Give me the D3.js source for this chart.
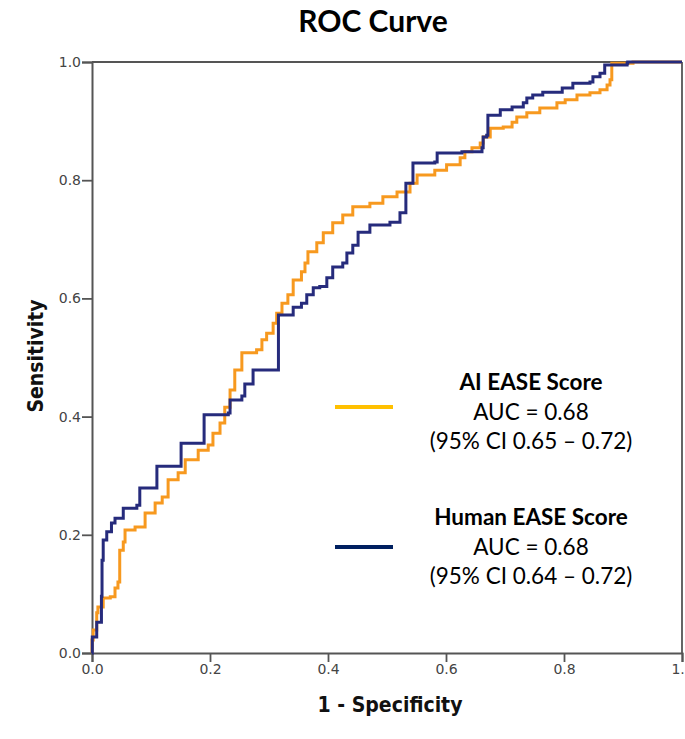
<!DOCTYPE html>
<html><head><meta charset="utf-8">
<script src="https://cdn.jsdelivr.net/npm/d3@7"></script>
<style>body{margin:0;background:#fff}</style>
</head><body>
<svg id="c" width="685" height="739"></svg>
<script>
// ----- data -----
const chartTitle = "ROC Curve";
const xTitle = "1 - Specificity";
const yTitle = "Sensitivity";
const tickValues = [0, 0.2, 0.4, 0.6, 0.8, 1.0];
const seriesNames = ["AI EASE Score", "Human EASE Score"];
const aucLabels = ["AUC = 0.68", "AUC = 0.68"];
const ciLabels = ["(95% CI 0.65 \u2013 0.72)", "(95% CI 0.64 \u2013 0.72)"];

// [1 - specificity, sensitivity]
const aiCurve = [
 [0,0],[0,0.022],[0.002,0.039],[0.008,0.068],[0.010,0.078],[0.019,0.093],[0.031,0.095],
 [0.039,0.110],[0.044,0.120],[0.047,0.174],[0.053,0.188],[0.056,0.208],[0.073,0.213],
 [0.090,0.237],[0.107,0.254],[0.119,0.264],[0.129,0.293],[0.146,0.305],[0.158,0.327],
 [0.180,0.343],[0.197,0.352],[0.205,0.372],[0.217,0.389],[0.225,0.416],[0.234,0.445],
 [0.242,0.479],[0.254,0.508],[0.279,0.513],[0.288,0.530],[0.296,0.541],[0.307,0.558],
 [0.313,0.575],[0.322,0.592],[0.332,0.606],[0.341,0.631],[0.355,0.645],[0.361,0.660],
 [0.366,0.679],[0.381,0.694],[0.392,0.711],[0.408,0.728],[0.425,0.741],[0.442,0.755],
 [0.471,0.761],[0.493,0.772],[0.517,0.780],[0.539,0.795],[0.551,0.809],[0.581,0.817],
 [0.601,0.826],[0.624,0.838],[0.632,0.848],[0.644,0.855],[0.658,0.863],[0.663,0.873],
 [0.675,0.888],[0.697,0.890],[0.712,0.898],[0.720,0.907],[0.737,0.914],[0.759,0.922],
 [0.788,0.931],[0.802,0.936],[0.822,0.944],[0.844,0.948],[0.861,0.953],[0.873,0.961],
 [0.878,0.970],[0.881,0.998],[0.895,0.998],[0.917,1.0],[1,1]
];
const humanCurve = [
 [0,0],[0.0005,0.027],[0.008,0.052],[0.016,0.096],[0.017,0.157],[0.019,0.191],[0.025,0.205],
 [0.033,0.220],[0.039,0.228],[0.053,0.245],[0.076,0.250],[0.081,0.279],[0.107,0.279],
 [0.110,0.316],[0.149,0.316],[0.151,0.355],[0.186,0.355],[0.190,0.403],[0.231,0.406],
 [0.234,0.428],[0.254,0.435],[0.259,0.455],[0.273,0.479],[0.316,0.491],[0.316,0.572],
 [0.336,0.572],[0.341,0.585],[0.355,0.592],[0.364,0.606],[0.375,0.618],[0.386,0.620],
 [0.398,0.635],[0.408,0.653],[0.425,0.660],[0.432,0.677],[0.442,0.690],[0.451,0.712],
 [0.471,0.724],[0.505,0.729],[0.522,0.745],[0.532,0.746],[0.532,0.795],[0.544,0.800],
 [0.544,0.829],[0.581,0.831],[0.585,0.846],[0.627,0.848],[0.661,0.855],[0.663,0.873],
 [0.669,0.876],[0.671,0.910],[0.692,0.919],[0.712,0.924],[0.731,0.931],[0.737,0.939],
 [0.747,0.944],[0.764,0.949],[0.797,0.956],[0.815,0.964],[0.844,0.966],[0.849,0.975],
 [0.861,0.981],[0.869,0.995],[0.907,0.998],[0.908,1.0],[1,1]
];
const curveColors = ["#f7991f", "#262b7c"];
const legendColors = ["#ffc000", "#002060"];

// ----- drawing -----
const svg = d3.select("#c");
const L = 92, R = 682, T = 62, B = 653;
const x = d3.scaleLinear().domain([0,1]).range([L,R]);
const y = d3.scaleLinear().domain([0,1]).range([B,T]);
const axisColor = "#555";

// frame (top & right)
svg.append("line").attr("x1",L).attr("x2",R).attr("y1",T).attr("y2",T)
  .attr("stroke",axisColor).attr("stroke-width",1.8);
svg.append("line").attr("x1",R).attr("x2",R).attr("y1",T).attr("y2",B)
  .attr("stroke",axisColor).attr("stroke-width",1.8);

const fmt = d3.format(".1f");
const xAxis = svg.append("g").attr("transform",`translate(0,${B})`)
  .call(d3.axisBottom(x).tickValues(tickValues).tickFormat(fmt).tickSize(9).tickPadding(2));
const yAxis = svg.append("g").attr("transform",`translate(${L},0)`)
  .call(d3.axisLeft(y).tickValues(tickValues).tickFormat(fmt).tickSize(10).tickPadding(1));
[xAxis,yAxis].forEach(g=>{
  g.select(".domain").attr("stroke",axisColor).attr("stroke-width",2);
  g.selectAll(".tick line").attr("stroke",axisColor).attr("stroke-width",1.8);
  g.selectAll(".tick text").attr("fill","#444")
    .style("font-family","DejaVu Sans").style("font-size","14px");
});

const line = d3.line().x(d=>x(d[0])).y(d=>y(d[1])).curve(d3.curveStepAfter);
[aiCurve, humanCurve].forEach((c,i)=>{
  svg.append("path").datum(c).attr("d",line).attr("fill","none")
    .attr("stroke",curveColors[i]).attr("stroke-width",3).attr("stroke-linejoin","miter");
});

// titles
svg.append("text").attr("x",373).attr("y",32).attr("text-anchor","middle")
  .style("font-family","Lato").style("font-weight","bold").style("font-size","30px")
  .attr("fill","#000").text(chartTitle);
svg.append("text").attr("x",390).attr("y",712).attr("text-anchor","middle")
  .style("font-family","'DejaVu Sans Condensed','DejaVu Sans'").style("font-weight","bold")
  .style("font-size","21px").attr("fill","#111")
  .attr("textLength",145).attr("lengthAdjust","spacingAndGlyphs").text(xTitle);
svg.append("text").attr("transform","translate(43,356) rotate(-90)").attr("text-anchor","middle")
  .style("font-family","'DejaVu Sans Condensed','DejaVu Sans'").style("font-weight","bold")
  .style("font-size","21px").attr("fill","#111")
  .attr("textLength",113).attr("lengthAdjust","spacingAndGlyphs").text(yTitle);

// legend
const legY = [407, 547];
const legBase = [390, 525];
seriesNames.forEach((n,i)=>{
  svg.append("line").attr("x1",335).attr("x2",393).attr("y1",legY[i]).attr("y2",legY[i])
    .attr("stroke",legendColors[i]).attr("stroke-width",4);
  const g = svg.append("g").style("font-family","Lato").attr("text-anchor","middle").attr("fill","#000");
  g.append("text").attr("x",531).attr("y",legBase[i]).style("font-weight","bold").style("font-size","22.5px").text(n);
  g.append("text").attr("x",531).attr("y",legBase[i]+30).style("font-size","22.5px").text(aucLabels[i]);
  g.append("text").attr("x",531).attr("y",legBase[i]+59).style("font-size","22.5px").text(ciLabels[i]);
});
</script>
</body></html>
